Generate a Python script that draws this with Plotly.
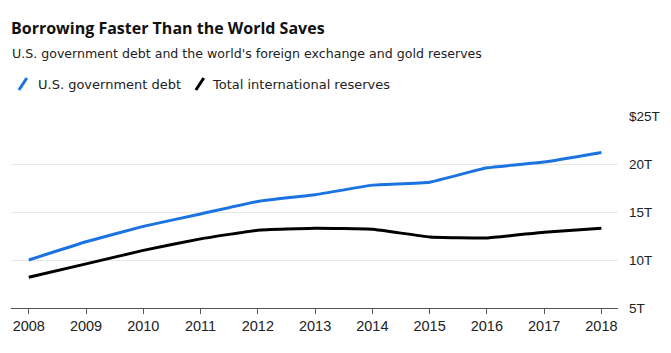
import plotly.graph_objects as go

years = list(range(2008, 2019))
us_debt = [10.0, 11.9, 13.5, 14.8, 16.1, 16.8, 17.8, 18.1, 19.6, 20.2, 21.2]
reserves = [8.2, 9.6, 11.0, 12.2, 13.1, 13.3, 13.2, 12.4, 12.3, 12.9, 13.3]
ytick_vals = [5, 10, 15, 20, 25]
ytick_text = ["5T", "10T", "15T", "20T", "$25T"]
series_names = ["U.S. government debt", "Total international reserves"]
colors = ["#1a73e0", "#000000"]

TFONT = "DejaVu Sans, Arial, sans-serif"
HFONT = "Open Sans, Arial, sans-serif"
AFONT = "Liberation Sans, Arial, sans-serif"

fig = go.Figure()
for vals, name, col in zip([us_debt, reserves], series_names, colors):
    fig.add_trace(go.Scatter(x=years, y=vals, mode="lines", name=name,
                             line=dict(color=col, width=3, shape="spline", smoothing=0.3),
                             showlegend=False))

fig.update_layout(
    width=671, height=353,
    margin=dict(l=11, r=46, t=116, b=45),
    paper_bgcolor="white", plot_bgcolor="white",
    font=dict(family=AFONT, size=13, color="#333333"),
    xaxis=dict(range=[2007.69, 2018.29], tickvals=years, ticks="outside", ticklen=5,
               tickcolor="#555555", showline=True, linecolor="#555555", linewidth=1,
               showgrid=False, zeroline=False, tickfont=dict(size=14.5, color="#222222")),
    yaxis=dict(range=[5, 25], tickvals=ytick_vals, ticktext=ytick_text, side="right",
               showgrid=True, gridcolor="#e8e8e8", zeroline=False, showline=False,
               ticks="", ticklabelstandoff=10, tickfont=dict(size=13.5, color="#222222")),
)

# Title & subtitle
fig.add_annotation(text="<b>Borrowing Faster Than the World Saves</b>", xref="paper", yref="paper",
                   x=0, y=1, xshift=-2, yshift=88, xanchor="left", yanchor="middle",
                   showarrow=False, font=dict(size=16, color="#111111", family=HFONT))
fig.add_annotation(text="U.S. government debt and the world's foreign exchange and gold reserves",
                   xref="paper", yref="paper", x=0, y=1, xshift=-1, yshift=63,
                   xanchor="left", yanchor="middle", showarrow=False,
                   font=dict(size=12.6, color="#222222", family=TFONT))

# Custom legend with slanted strokes
stroke_x = [19, 198]
text_x = [37, 213]
for name, col, sx, tx in zip(series_names, colors, stroke_x, text_x):
    fig.add_shape(type="line", xref="paper", yref="paper",
                  x0=(sx - 11) / 614, x1=(sx - 11 + 8) / 614,
                  y0=1 + (116 - 90) / 192, y1=1 + (116 - 78) / 192,
                  line=dict(color=col, width=3))
    fig.add_annotation(text=name, xref="paper", yref="paper",
                       x=(tx - 11) / 614, xshift=-1, y=1, yshift=32, xanchor="left", yanchor="middle",
                       showarrow=False, font=dict(size=13, color="#222222", family=TFONT))

fig.write_html("out.html")
